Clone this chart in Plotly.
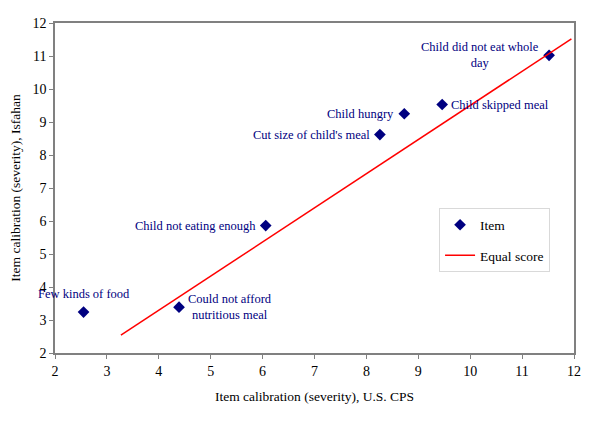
import plotly.graph_objects as go

# Data
items = ["Few kinds of food", "Could not afford<br>nutritious meal", "Child not eating enough",
         "Cut size of child's meal", "Child hungry", "Child skipped meal",
         "Child did not eat whole<br>day"]
us_cps = [2.55, 4.39, 6.06, 8.26, 8.73, 9.46, 11.52]
isfahan = [3.24, 3.39, 5.86, 8.62, 9.25, 9.53, 11.02]
line_x = [3.27, 11.95]
line_y = [2.54, 11.52]

# label placement style per item
label_side = ["top", "right", "left", "left", "left", "right", "left"]

NAVY = "#000080"
FONT = "Liberation Serif, Times New Roman, serif"

fig = go.Figure()
fig.add_trace(go.Scatter(x=us_cps, y=isfahan, mode="markers", name="Item",
                         marker=dict(symbol="diamond", size=9, color=NAVY),
                         legendgroup="a"))
fig.add_trace(go.Scatter(x=line_x, y=line_y, mode="lines", name="Equal score",
                         line=dict(color="#ff0000", width=1.5), legendgroup="b"))

for txt, x, y, side in zip(items, us_cps, isfahan, label_side):
    kw = dict(x=x, y=y, text=txt, showarrow=False, xref="x", yref="y",
              font=dict(family=FONT, size=12.5, color=NAVY), align="center")
    if side == "left":
        kw.update(xanchor="right", yanchor="middle", xshift=-8)
    elif side == "right":
        kw.update(xanchor="left", yanchor="middle", xshift=7)
    else:
        kw.update(xanchor="center", yanchor="bottom", yshift=9)
    fig.add_annotation(**kw)

axis_common = dict(showgrid=False, zeroline=False, showline=True, linecolor="#808080",
                   linewidth=1.5, mirror=True, ticks="outside", ticklen=4,
                   tickcolor="#808080", tickfont=dict(family=FONT, size=14, color="black"),
                   dtick=1, automargin=False)
fig.update_xaxes(range=[2, 12], title=dict(text="Item calibration (severity), U.S. CPS",
                 font=dict(family=FONT, size=13.5, color="black"), standoff=14), **axis_common)
fig.update_yaxes(range=[2, 12], title=dict(text="Item calibration (severity), Isfahan",
                 font=dict(family=FONT, size=13.5, color="black"), standoff=12), **axis_common)

fig.update_layout(
    width=592, height=415,
    margin=dict(l=47, r=26, t=15, b=70),
    paper_bgcolor="white", plot_bgcolor="white",
    showlegend=True,
    legend=dict(x=0.74, y=0.438, xanchor="left", yanchor="top",
                bgcolor="white", bordercolor="#d9d9d9", borderwidth=1,
                font=dict(family=FONT, size=13.5, color="black"),
                traceorder="grouped", tracegroupgap=10),
)

fig.write_html("out.html")
